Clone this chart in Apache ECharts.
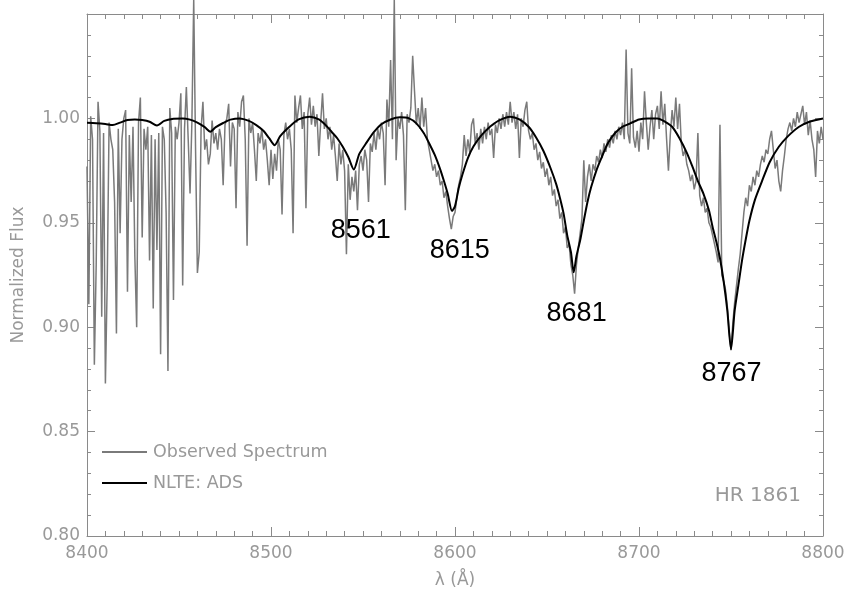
<!DOCTYPE html>
<html>
<head>
<meta charset="utf-8">
<script src="https://cdn.jsdelivr.net/npm/echarts@6/dist/echarts.min.js"></script>
<style>
html, body { margin: 0; padding: 0; background: #fff; }
#chart { width: 847px; height: 591px; }
</style>
</head>
<body>
<div id="chart"></div>
<script>
// observed spectrum, one value per Angstrom from 8400 to 8800
var obsStart = 8400;
var obsFlux = [
  0.977, 0.911, 1.001, 0.990, 0.882, 0.930, 1.008, 0.994, 0.905, 0.993,
  0.873, 0.922, 0.998, 0.990, 0.985, 0.960, 0.897, 0.995, 0.945, 0.990,
  1.000, 1.004, 0.917, 0.992, 0.960, 0.996, 0.934, 0.900, 0.998, 1.010,
  0.943, 0.995, 0.985, 0.996, 0.932, 0.992, 0.909, 0.990, 0.937, 0.993,
  0.887, 0.996, 0.990, 0.955, 0.879, 1.005, 0.993, 0.913, 0.996, 0.990,
  0.998, 1.012, 0.920, 0.995, 1.015, 0.990, 0.964, 0.998, 1.057, 0.985,
  0.926, 0.936, 0.995, 1.008, 0.985, 0.990, 0.978, 0.983, 0.999, 0.988,
  0.993, 0.985, 0.995, 0.990, 0.968, 0.997, 1.000, 1.007, 0.977, 0.998,
  0.995, 0.957, 1.003, 0.996, 1.008, 1.011, 0.990, 0.939, 1.000, 0.993,
  0.998, 0.985, 0.970, 0.993, 0.988, 0.995, 0.985, 0.990, 0.980, 0.968,
  0.985, 0.971, 0.983, 0.975, 0.990, 0.985, 0.954, 0.992, 0.998, 0.990,
  0.995, 0.985, 0.945, 1.011, 0.998, 1.005, 1.011, 0.995, 1.003, 0.957,
  1.002, 1.010, 0.997, 1.006, 0.996, 1.002, 0.982, 0.998, 1.012, 0.995,
  1.000, 0.990, 0.996, 0.985, 0.992, 0.982, 0.970, 0.988, 0.978, 0.985,
  0.975, 0.935, 0.978, 0.961, 0.972, 0.965, 0.975, 0.956, 0.978, 0.982,
  0.975, 0.985, 0.980, 0.960, 0.988, 0.984, 0.993, 0.985, 0.995, 0.990,
  0.998, 0.993, 0.968, 1.009, 0.996, 1.028, 0.990, 1.057, 0.980, 1.000,
  0.995, 1.003, 0.992, 0.956, 1.002, 0.998, 1.005, 1.030, 1.013, 0.997,
  1.005, 0.995, 1.010, 0.996, 1.005, 0.990, 0.985, 0.980, 0.975, 0.978,
  0.972, 0.975, 0.968, 0.970, 0.962, 0.965, 0.958, 0.952, 0.947, 0.953,
  0.955, 0.962, 0.968, 0.972, 0.978, 0.992, 0.982, 0.990, 0.984, 0.997,
  1.000, 0.988, 0.993, 0.985, 0.995, 0.988, 0.996, 0.990, 0.998, 0.992,
  0.995, 0.981, 0.997, 0.993, 1.000, 0.995, 1.002, 0.996, 1.003, 0.997,
  1.008, 0.998, 1.003, 0.995, 1.002, 0.981, 1.000, 0.996, 1.004, 1.008,
  0.994, 0.990, 0.993, 0.985, 0.988, 0.980, 0.984, 0.976, 0.979, 0.972,
  0.976, 0.968, 0.972, 0.963, 0.966, 0.958, 0.961, 0.952, 0.955, 0.945,
  0.948, 0.938, 0.940, 0.930, 0.925, 0.916, 0.930, 0.938, 0.945, 0.952,
  0.980, 0.960, 0.972, 0.978, 0.970, 0.978, 0.975, 0.982, 0.979, 0.985,
  0.981, 0.988, 0.984, 0.990, 0.986, 0.992, 0.988, 0.994, 0.990, 0.996,
  0.992, 0.998, 0.990, 1.033, 0.993, 0.988, 1.024, 0.991, 0.986, 0.994,
  0.984, 0.998, 0.990, 1.013, 0.998, 0.985, 0.996, 1.004, 0.990, 1.002,
  1.006, 0.995, 1.013, 0.997, 1.007, 0.990, 0.975, 0.992, 1.004, 0.996,
  1.010, 0.995, 1.007, 0.988, 0.982, 0.985, 0.978, 0.975, 0.970, 0.973,
  0.966, 0.970, 0.993, 0.963, 0.958, 0.962, 0.955, 0.957, 0.950, 0.948,
  0.944, 0.940, 0.936, 0.931, 0.997, 0.925, 0.922, 0.918, 0.910, 0.898,
  0.889, 0.902, 0.912, 0.920, 0.928, 0.935, 0.945, 0.955, 0.962, 0.958,
  0.968, 0.965, 0.972, 0.968, 0.975, 0.972, 0.978, 0.982, 0.979, 0.985,
  0.983, 0.990, 0.994, 0.985, 0.976, 0.980, 0.970, 0.965, 0.975, 0.982,
  0.990, 0.995, 0.998, 0.994, 1.000, 0.996, 1.003, 0.998, 1.002, 1.006,
  0.997, 1.003, 0.992, 0.999, 0.990, 0.985, 0.972, 0.994, 0.988, 0.996,
  0.990
];

// NLTE model
var modelWave = [
  8400, 8405, 8410, 8414, 8418, 8422, 8426, 8430, 8434, 8438,
  8442, 8447, 8452, 8456, 8460, 8464, 8467, 8470, 8474, 8478,
  8483, 8488, 8492, 8496, 8499, 8502, 8505, 8510, 8515, 8521,
  8526, 8530, 8533, 8536, 8539, 8542, 8545, 8548, 8552, 8556,
  8560, 8565, 8570, 8575, 8579, 8583, 8586, 8589, 8592, 8594,
  8596, 8598.4, 8600, 8602, 8604, 8607, 8610, 8614, 8618, 8624,
  8630, 8635, 8640, 8644, 8648, 8652, 8655, 8657, 8659, 8661,
  8663, 8664.5, 8666, 8668, 8670, 8672, 8674, 8677, 8680, 8683,
  8687, 8691, 8695, 8700, 8705, 8710, 8714, 8718, 8722, 8726,
  8729, 8732, 8735, 8738, 8740, 8742, 8744, 8746, 8748, 8750,
  8752, 8754, 8756, 8758, 8760, 8763, 8767, 8771, 8776, 8781,
  8787, 8793, 8800
];
var modelFlux = [
  0.9979, 0.9977, 0.9973, 0.9968, 0.9980, 0.9992, 0.9995, 0.9992, 0.9984, 0.9966,
  0.9988, 0.9998, 1.0000, 0.9994, 0.9980, 0.9958, 0.9936, 0.9958, 0.9978, 0.9994,
  1.0000, 0.9988, 0.9968, 0.9940, 0.9905, 0.9872, 0.9915, 0.9960, 0.9995, 1.0008,
  0.9995, 0.9965, 0.9935, 0.9905, 0.9864, 0.9815, 0.9755, 0.9830, 0.9885, 0.9935,
  0.9972, 0.9995, 1.0005, 1.0000, 0.9976, 0.9930, 0.9880, 0.9825, 0.9755, 0.9700,
  0.9640, 0.9556, 0.9580, 0.9665, 0.9730, 0.9810, 0.9865, 0.9915, 0.9952, 0.9990,
  1.0008, 0.9995, 0.9960, 0.9910, 0.9845, 0.9760, 0.9685, 0.9620, 0.9545, 0.9440,
  0.9360, 0.9263, 0.9340, 0.9415, 0.9510, 0.9600, 0.9671, 0.9755, 0.9820, 0.9880,
  0.9930, 0.9960, 0.9975, 0.9995, 1.0000, 1.0000, 0.9985, 0.9960, 0.9905, 0.9835,
  0.9770, 0.9700, 0.9640, 0.9560, 0.9480, 0.9410, 0.9330, 0.9220, 0.9080, 0.8894,
  0.9080, 0.9200, 0.9320, 0.9420, 0.9510, 0.9610, 0.9703, 0.9790, 0.9864, 0.9915,
  0.9960, 0.9985, 1.0000
];

// line labels and where they sit
var lineLabels = ['8561', '8615', '8681', '8767'];
var lineLabelX = [8548.8, 8602.6, 8666.1, 8750.3];
var lineLabelY = [0.9463, 0.9367, 0.9064, 0.8776];

var obsData = obsFlux.map(function (v, i) { return [obsStart + i, v]; });
var modelData = modelWave.map(function (w, i) { return [w, modelFlux[i]]; });

var gray = '#999';
var frame = '#8a8a8a';
var font = 'DejaVu Sans';

var myChart = echarts.init(document.getElementById('chart'));

function xAx(pos, labels) {
    return {
        type: 'value',
        position: pos,
        min: 8400,
        max: 8800,
        interval: 100,
        name: labels ? 'λ (Å)' : '',
        nameLocation: 'middle',
        nameGap: 36,
        nameTextStyle: { color: gray, fontFamily: font, fontSize: 17 },
        axisLine: { show: true, onZero: false, lineStyle: { color: frame, width: 1 } },
        axisTick: { show: true, inside: true, length: 9, lineStyle: { color: frame } },
        minorTick: { show: true, splitNumber: 10, length: 5, lineStyle: { color: frame } },
        splitLine: { show: false },
        axisLabel: {
            show: labels, color: gray, fontFamily: font, fontSize: 17, margin: 9,
            formatter: function (v) { return String(v); }
        }
    };
}

function yAx(pos, labels) {
    return {
        type: 'value',
        position: pos,
        min: 0.80,
        max: 1.05,
        interval: 0.05,
        name: labels ? 'Normalized Flux' : '',
        nameLocation: 'middle',
        nameGap: 60,
        nameTextStyle: { color: gray, fontFamily: font, fontSize: 17 },
        axisLine: { show: true, onZero: false, lineStyle: { color: frame, width: 1 } },
        axisTick: { show: true, inside: true, length: 8, lineStyle: { color: frame } },
        minorTick: { show: true, splitNumber: 5, length: 4, lineStyle: { color: frame } },
        splitLine: { show: false },
        axisLabel: {
            show: labels, color: gray, fontFamily: font, fontSize: 17, margin: 7,
            formatter: function (v) { return v > 1.04 ? '' : v.toFixed(2); }
        }
    };
}

myChart.setOption({
    animation: false,
    backgroundColor: '#fff',
    title: {
        text: 'HR 1861',
        right: 46,
        top: 486,
        padding: 0,
        textStyle: { color: gray, fontFamily: font, fontSize: 20, fontWeight: 'normal' }
    },
    legend: {
        orient: 'vertical',
        left: 97,
        top: 437,
        icon: 'rect',
        itemWidth: 45,
        itemHeight: 2,
        itemGap: 11,
        textStyle: { color: gray, fontFamily: font, fontSize: 17.5, lineHeight: 20, padding: [0, 0, 0, 1] },
        data: ['Observed Spectrum', 'NLTE: ADS']
    },
    grid: { left: 87, right: 24, top: 14, bottom: 55, outerBoundsMode: 'none' },
    xAxis: [xAx('bottom', true), xAx('top', false)],
    yAxis: [yAx('left', true), yAx('right', false)],
    series: [
        {
            name: 'Observed Spectrum',
            type: 'line',
            data: obsData,
            symbol: 'none',
            clip: false,
            lineStyle: { color: '#7a7a7a', width: 1.5 },
            itemStyle: { color: '#7a7a7a' }
        },
        {
            name: 'NLTE: ADS',
            type: 'line',
            data: modelData,
            symbol: 'none',
            smooth: 0.25,
            lineStyle: { color: '#000', width: 2 },
            itemStyle: { color: '#000' },
            markPoint: {
                symbol: 'circle',
                symbolSize: 0,
                label: {
                    show: true,
                    position: 'inside',
                    color: '#000',
                    fontFamily: 'Liberation Sans',
                    fontSize: 27,
                    formatter: function (p) { return p.name; }
                },
                data: lineLabels.map(function (t, i) {
                    return { name: t, coord: [lineLabelX[i], lineLabelY[i]] };
                })
            }
        }
    ]
});
</script>
</body>
</html>
